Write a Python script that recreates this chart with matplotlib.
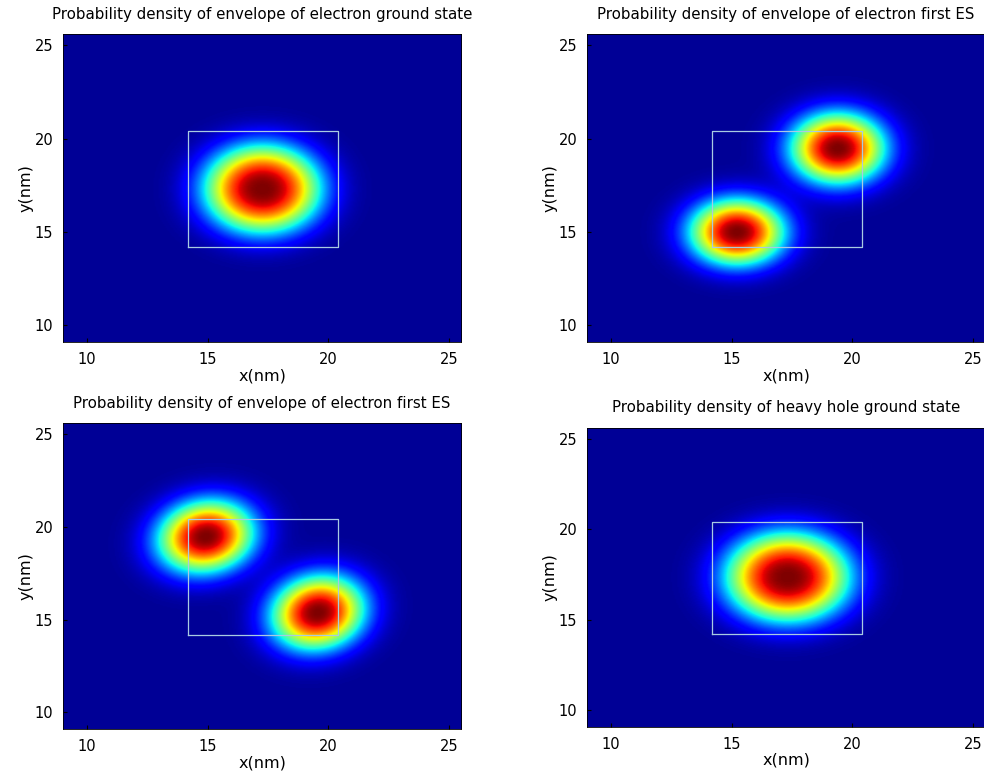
import matplotlib
matplotlib.use('Agg')
import matplotlib.pyplot as plt
import numpy as np

plt.rcParams['font.family'] = ['DejaVu Sans']

# axis ranges (nm)
x_lim = [9.0, 25.5]
y_lim = [9.1, 25.6]
x_ticks = [10, 15, 20, 25]
y_ticks = [10, 15, 20, 25]

# quantum dot outline
box_x = [14.2, 20.4, 20.4, 14.2, 14.2]
box_y = [14.2, 14.2, 20.4, 20.4, 14.2]

titles = ['Probability density of envelope of electron ground state',
          'Probability density of envelope of electron first ES',
          'Probability density of envelope of electron first ES',
          'Probability density of heavy hole ground state']

# lobes of each density: centre, half widths (nm), tilt (deg), shape exponent
cx = [[17.25], [15.2, 19.38], [14.9, 19.55], [17.3]]
cy = [[17.3], [14.98, 19.48], [19.45, 15.35], [17.35]]
wa = [[2.35], [1.9, 1.9], [2.0, 2.0], [2.5]]
wb = [[2.3], [1.72, 1.85], [1.8, 1.8], [2.4]]
tilt = [[0], [0, 0], [40, 55], [0]]
expo = [2.6, 2.3, 2.3, 2.6]

positions = [[0.064, 0.561, 0.4045, 0.395],
             [0.5965, 0.561, 0.4045, 0.395],
             [0.064, 0.064, 0.4045, 0.393],
             [0.5965, 0.067, 0.4045, 0.384]]

fig = plt.figure(figsize=(9.84, 7.79), dpi=100)

xs = np.linspace(x_lim[0], x_lim[1], 300)
ys = np.linspace(y_lim[0], y_lim[1], 300)
X, Y = np.meshgrid(xs, ys)

for i in range(4):
    ax = fig.add_axes(positions[i])
    Z = np.zeros_like(X)
    for k in range(len(cx[i])):
        t = np.deg2rad(tilt[i][k])
        dx = X - cx[i][k]
        dy = Y - cy[i][k]
        u = dx * np.cos(t) + dy * np.sin(t)
        v = -dx * np.sin(t) + dy * np.cos(t)
        q = (u / wa[i][k])**2 + (v / wb[i][k])**2
        Z += np.exp(-q**(expo[i] / 2))
    Z = Z / Z.max()
    ax.imshow(Z, cmap='jet', origin='lower', aspect='auto',
              extent=[x_lim[0], x_lim[1], y_lim[0], y_lim[1]],
              interpolation='bilinear', vmin=-0.02, vmax=1)
    ax.plot(box_x, box_y, color='#a9cbe2', lw=0.9)
    ax.set_xlim(x_lim)
    ax.set_ylim(y_lim)
    ax.set_xticks(x_ticks)
    ax.set_yticks(y_ticks)
    ax.tick_params(axis='x', direction='in', length=3, labelsize=10.5, pad=7)
    ax.tick_params(axis='y', direction='in', length=3, labelsize=10.5, pad=7)
    for s in ax.spines.values():
        s.set_linewidth(0.6)
    ax.set_xlabel('x(nm)', fontsize=11.5, labelpad=1)
    ax.set_ylabel('y(nm)', fontsize=11.5, labelpad=1)
    ax.set_title(titles[i], fontsize=10.8, pad=11)

fig.savefig('out.png', dpi=100)
